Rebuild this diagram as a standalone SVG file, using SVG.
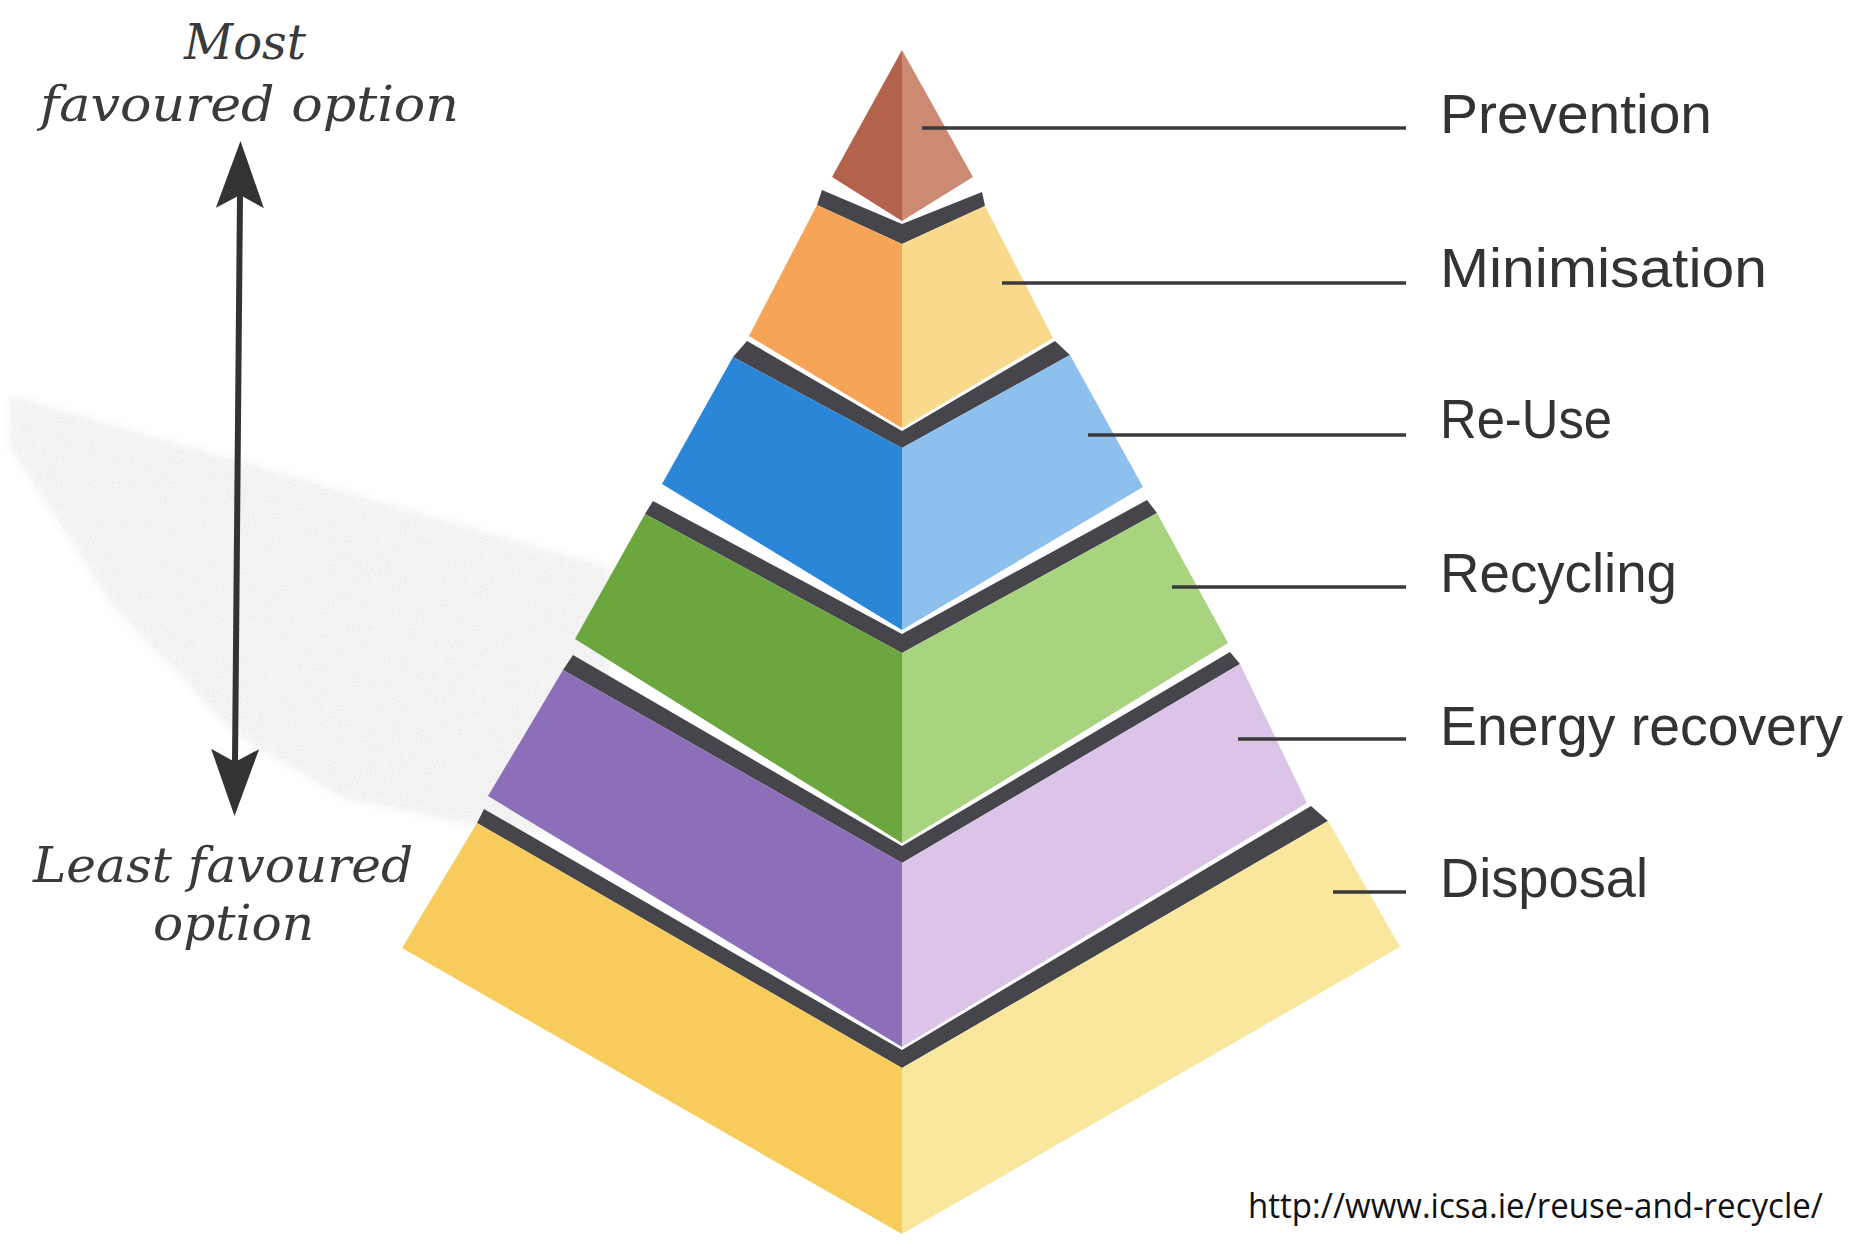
<svg xmlns="http://www.w3.org/2000/svg" width="1860" height="1246" viewBox="0 0 1860 1246">
  <defs>
    <style>
      .band { fill: #45454b; }
      .leader { stroke: #3a3a3a; stroke-width: 3.5; fill: none; }
      .label { font-family: "Liberation Sans", Arial, sans-serif; font-size: 56px; fill: #333333; }
      .scale { font-family: "DejaVu Serif", "Liberation Serif", serif; font-style: italic; font-size: 48px; fill: #3a3a3a; }
      .source { font-family: "Open Sans", "Liberation Sans", sans-serif; font-size: 34px; fill: #111111; }
    </style>
    <marker id="head" viewBox="0 -24 67 48" refX="13" refY="0" markerWidth="67" markerHeight="48" markerUnits="userSpaceOnUse" orient="auto-start-reverse">
      <path d="M67,0 L0,-24 L13,0 L0,24 Z" fill="#333333"/>
    </marker>
    <filter id="soft" x="-5%" y="-5%" width="110%" height="110%">
      <feGaussianBlur stdDeviation="6"/>
    </filter>
    <filter id="grain" x="0" y="0" width="100%" height="100%">
      <feTurbulence type="fractalNoise" baseFrequency="0.75" numOctaves="2" seed="7" result="noise"/>
      <feColorMatrix in="noise" type="matrix" values="0 0 0 0 0.7  0 0 0 0 0.7  0 0 0 0 0.7  0 0 0 3 -1.35" result="dots"/>
      <feComposite in="dots" in2="SourceGraphic" operator="in"/>
    </filter>
  </defs>

  <rect width="1860" height="1246" fill="#ffffff"/>

  <!-- faint speckled shadow cast to the left of the pyramid -->
  <g id="shadow">
    <polygon points="10,396 610,568 610,835 497,830 344,798 237,735 115,608 10,448" fill="#f5f5f5" filter="url(#soft)"/>
    <polygon points="10,396 610,568 610,835 497,830 344,798 237,735 115,608 10,448" fill="#000" filter="url(#grain)" opacity="0.45"/>
  </g>

  <!-- pyramid tiers, top to bottom -->
  <g id="prevention">
    <polygon points="902,50 832,177 902,221" fill="#b3624c"/>
    <polygon points="902,50 902,221 973,177" fill="#cc8a72"/>
  </g>

  <g id="minimisation">
    <polygon class="band" points="822,190 902,224 982,192 985,206 902,244 817,205"/>
    <polygon points="817,205 902,244 902,428 749,336" fill="#f6a458"/>
    <polygon points="902,244 985,206 1053,338 902,428" fill="#f9d98b"/>
  </g>

  <g id="reuse">
    <polygon class="band" points="747,341 902,431 1055,341 1070,355 902,448 733,357"/>
    <polygon points="733,357 902,448 902,630 662,484" fill="#2b86d8"/>
    <polygon points="902,448 1070,355 1143,487 902,630" fill="#8ec0ee"/>
  </g>

  <g id="recycling">
    <polygon class="band" points="653,501 902,634 1147,500 1157,513 902,653 645,514"/>
    <polygon points="645,514 902,653 902,843 575,639" fill="#6ca63e"/>
    <polygon points="902,653 1157,513 1228,643 902,843" fill="#a9d47f"/>
  </g>

  <g id="energy-recovery">
    <polygon class="band" points="573,655 902,846 1230,652 1240,664 902,863 563,670"/>
    <polygon points="563,670 902,863 902,1047 488,796" fill="#8d6fb9"/>
    <polygon points="902,863 1240,664 1307,803 902,1047" fill="#dcc4e8"/>
  </g>

  <g id="disposal">
    <polygon class="band" points="484,809 902,1050 1311,806 1328,821 902,1068 477,823"/>
    <polygon points="477,823 902,1068 902,1234 402,948" fill="#f7cb5c"/>
    <polygon points="902,1068 1328,821 1400,947 902,1234" fill="#f8e79c"/>
  </g>

  <!-- leader lines from each tier to its label -->
  <g id="connectors">
    <line class="leader" x1="922" y1="128" x2="1406" y2="128"/>
    <line class="leader" x1="1002" y1="283" x2="1406" y2="283"/>
    <line class="leader" x1="1088" y1="435" x2="1406" y2="435"/>
    <line class="leader" x1="1172" y1="587" x2="1406" y2="587"/>
    <line class="leader" x1="1238" y1="739" x2="1406" y2="739"/>
    <line class="leader" x1="1333" y1="892" x2="1406" y2="892"/>
  </g>

  <g id="labels">
    <text class="label" x="1440" y="133" textLength="272" lengthAdjust="spacingAndGlyphs">Prevention</text>
    <text class="label" x="1440" y="287" textLength="327" lengthAdjust="spacingAndGlyphs">Minimisation</text>
    <text class="label" x="1440" y="438" textLength="172" lengthAdjust="spacingAndGlyphs">Re-Use</text>
    <text class="label" x="1440" y="592" textLength="237" lengthAdjust="spacingAndGlyphs">Recycling</text>
    <text class="label" x="1440" y="745" textLength="403" lengthAdjust="spacingAndGlyphs">Energy recovery</text>
    <text class="label" x="1440" y="897" textLength="208" lengthAdjust="spacingAndGlyphs">Disposal</text>
  </g>

  <!-- preference scale on the left -->
  <g id="preference-scale">
    <line x1="240" y1="195" x2="235" y2="762" stroke="#333333" stroke-width="6" marker-start="url(#head)" marker-end="url(#head)"/>
    <text class="scale" x="184" y="59" textLength="122" lengthAdjust="spacingAndGlyphs">Most</text>
    <text class="scale" x="40" y="121" textLength="419" lengthAdjust="spacingAndGlyphs">favoured option</text>
    <text class="scale" x="33" y="882" textLength="380" lengthAdjust="spacingAndGlyphs">Least favoured</text>
    <text class="scale" x="153" y="940" textLength="161" lengthAdjust="spacingAndGlyphs">option</text>
  </g>

  <text class="source" x="1248" y="1218" textLength="575" lengthAdjust="spacingAndGlyphs">http://www.icsa.ie/reuse-and-recycle/</text>
</svg>
